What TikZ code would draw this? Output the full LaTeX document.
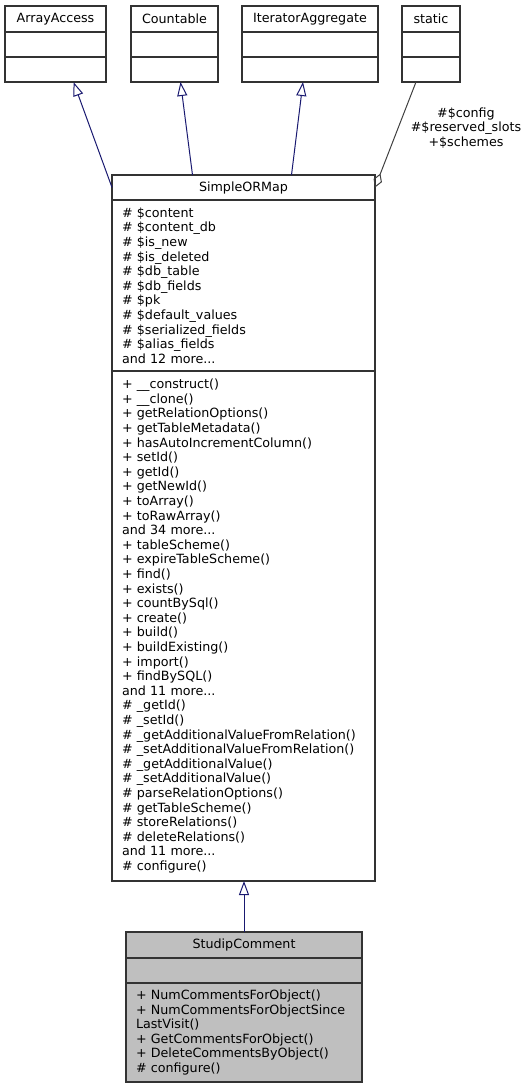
\documentclass[tikz,border=0pt]{standalone}
\usepackage{fontspec}
\setmainfont{DejaVu Sans}
\usepackage{xcolor}
\definecolor{inh}{RGB}{25,25,112}
\definecolor{edge}{RGB}{64,64,64}
\usetikzlibrary{arrows.meta}

\begin{document}
\begin{tikzpicture}[x=1pt, y=-1pt, every node/.append style={font=\fontsize{12.7}{14.6}\selectfont}]
    \tikzstyle{cell}=[draw=black!80, line width=1.2pt, inner sep=0pt, outer sep=0pt, anchor=north west];
    \tikzstyle{members}=[cell, align=left, inner xsep=10pt];
    \tikzstyle{inherit}=[draw=inh, line width=1pt, -{Triangle[open, length=14pt, width=10pt]}];
    \tikzstyle{uses}=[draw=edge, line width=1pt, -{Diamond[open, length=15pt, width=9pt]}];
    \useasboundingbox (0,0) rectangle (529,1088);
    %ArrayAccess
    \node[cell, minimum width=101pt, minimum height=26pt] (aa) at (5,6) {ArrayAccess};
    \node[cell, minimum width=101pt, minimum height=25pt] (aa2) at (aa.south west) {};
    \node[cell, minimum width=101pt, minimum height=25pt] (aa3) at (aa2.south west) {};
    %Countable
    \node[cell, minimum width=87pt, minimum height=26pt] (cn) at (131,6) {Countable};
    \node[cell, minimum width=87pt, minimum height=25pt] (cn2) at (cn.south west) {};
    \node[cell, minimum width=87pt, minimum height=25pt] (cn3) at (cn2.south west) {};
    %IteratorAggregate
    \node[cell, minimum width=136pt, minimum height=26pt] (ia) at (242,6) {IteratorAggregate};
    \node[cell, minimum width=136pt, minimum height=25pt] (ia2) at (ia.south west) {};
    \node[cell, minimum width=136pt, minimum height=25pt] (ia3) at (ia2.south west) {};
    %static
    \node[cell, minimum width=58pt, minimum height=26pt] (st) at (402,6) {static};
    \node[cell, minimum width=58pt, minimum height=25pt] (st2) at (st.south west) {};
    \node[cell, minimum width=58pt, minimum height=25pt] (st3) at (st2.south west) {};
    %SimpleORMap
    \node[cell, minimum width=263pt, minimum height=25pt] (som) at (112,175) {SimpleORMap};
    \node[members, minimum width=263pt, minimum height=171pt, text width=243pt] (som2) at (som.south west) {%
        \# \$content\\ \# \$content\_db\\ \# \$is\_new\\ \# \$is\_deleted\\ \# \$db\_table\\
        \# \$db\_fields\\ \# \$pk\\ \# \$default\_values\\ \# \$serialized\_fields\\
        \# \$alias\_fields\\ and 12 more...};
    \node[members, minimum width=263pt, minimum height=510pt, text width=243pt] (som3) at (som2.south west) {%
        + \_\_construct()\\ + \_\_clone()\\ + getRelationOptions()\\ + getTableMetadata()\\
        + hasAutoIncrementColumn()\\ + setId()\\ + getId()\\ + getNewId()\\ + toArray()\\
        + toRawArray()\\ and 34 more...\\ + tableScheme()\\ + expireTableScheme()\\
        + find()\\ + exists()\\ + countBySql()\\ + create()\\ + build()\\ + buildExisting()\\
        + import()\\ + findBySQL()\\ and 11 more...\\ \# \_getId()\\ \# \_setId()\\
        \# \_getAdditionalValueFromRelation()\\ \# \_setAdditionalValueFromRelation()\\
        \# \_getAdditionalValue()\\ \# \_setAdditionalValue()\\ \# parseRelationOptions()\\
        \# getTableScheme()\\ \# storeRelations()\\ \# deleteRelations()\\
        and 11 more...\\ \# configure()};
    %StudipComment
    \node[cell, fill=black!25, minimum width=236pt, minimum height=26pt] (sc) at (126,932) {StudipComment};
    \node[cell, fill=black!25, minimum width=236pt, minimum height=25pt] (sc2) at (sc.south west) {};
    \node[members, fill=black!25, minimum width=236pt, minimum height=99pt, text width=216pt] (sc3) at (sc2.south west) {%
        + NumCommentsForObject()\\ + NumCommentsForObjectSince\\ LastVisit()\\
        + GetCommentsForObject()\\ + DeleteCommentsByObject()\\ \# configure()};
    %links
    \draw[inherit] (som.west) -- ([xshift=18pt]aa3.south);
    \draw[inherit] ([xshift=-51pt]som.north) -- ([xshift=6pt]cn3.south);
    \draw[inherit] ([xshift=48pt]som.north) -- ([xshift=-7pt]ia3.south);
    \draw[inherit] (sc.north) -- (sc.north |- som3.south);
    \draw[uses] ([xshift=-15pt]st3.south) -- (som.east);
    \node[align=center] (lbl) at (466,128) {\#\$config\\ \#\$reserved\_slots\\ +\$schemes};
\end{tikzpicture}
\end{document}
